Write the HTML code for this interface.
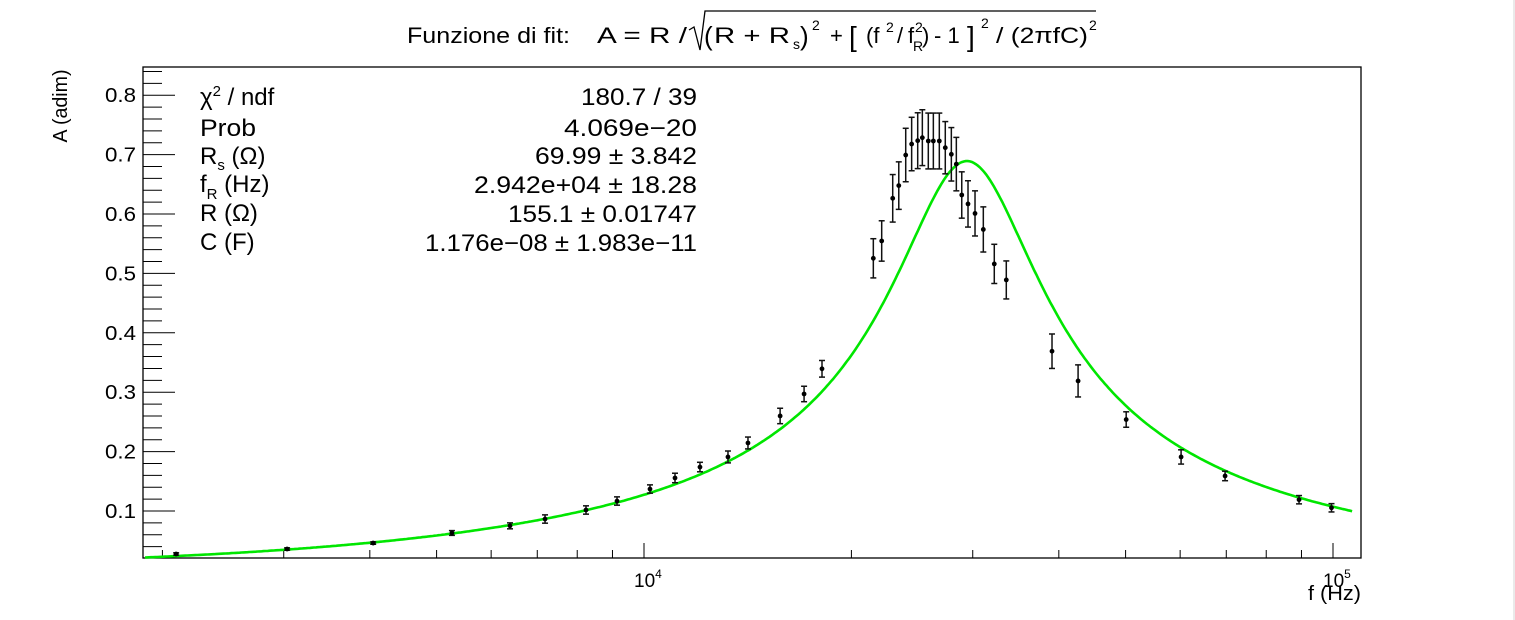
<!DOCTYPE html>
<html><head><meta charset="utf-8"><style>
html,body{margin:0;padding:0;background:#fff;}
svg{display:block;font-family:"Liberation Sans",Arial,sans-serif;}
</style></head><body>
<svg id="chart" width="1515" height="620" viewBox="0 0 1515 620" xmlns="http://www.w3.org/2000/svg">
<rect x="0" y="0" width="1515" height="620" fill="#fff"/>
<line x1="1514" y1="0" x2="1514" y2="620" stroke="#e4e4e4" stroke-width="1.5"/>
<g font-size="22" fill="#000">
  <text x="407" y="43" textLength="163" lengthAdjust="spacingAndGlyphs">Funzione di fit:</text>
  <text x="597" y="43" textLength="90" lengthAdjust="spacingAndGlyphs">A = R /</text>
  <path d="M689,30 L694,27 L700,50 L705,11 L1096,11" fill="none" stroke="#000" stroke-width="1.3"/>
  <text x="704" y="45" font-size="26">(</text>
  <text x="714" y="43" textLength="76" lengthAdjust="spacingAndGlyphs">R + R</text>
  <text x="793" y="49" font-size="14">s</text>
  <text x="800" y="45" font-size="26">)</text>
  <text x="812" y="30" font-size="14">2</text>
  <text x="830" y="43">+</text>
  <text x="849" y="46" font-size="28">[</text>
  <text x="866" y="43">(f</text>
  <text x="886" y="32" font-size="14">2</text>
  <text x="897" y="43">/</text>
  <text x="908" y="43">f</text>
  <text x="915" y="32" font-size="14">2</text>
  <text x="913" y="51" font-size="14">R</text>
  <text x="922" y="43">)</text>
  <text x="934" y="43">- 1</text>
  <text x="967" y="46" font-size="28">]</text>
  <text x="981" y="28" font-size="14">2</text>
  <text x="996" y="43" textLength="92" lengthAdjust="spacingAndGlyphs">/ (2πfC)</text>
  <text x="1089" y="30" font-size="14">2</text>
</g>
<g id="plot"></g>
<g font-size="24" fill="#000">
  <text x="200" y="105">χ<tspan font-size="15" dy="-9">2</tspan><tspan dy="9"> / ndf</tspan></text>
  <text x="697" y="105" text-anchor="end" textLength="116" lengthAdjust="spacingAndGlyphs">180.7 / 39</text>
  <text x="200" y="136" textLength="56" lengthAdjust="spacingAndGlyphs">Prob</text>
  <text x="697" y="136" text-anchor="end" textLength="133" lengthAdjust="spacingAndGlyphs">4.069e−20</text>
  <text x="200" y="164">R<tspan font-size="15" dy="6">s</tspan><tspan dy="-6"> (Ω)</tspan></text>
  <text x="697" y="164" text-anchor="end" textLength="162" lengthAdjust="spacingAndGlyphs">69.99 ± 3.842</text>
  <text x="200" y="192">f<tspan font-size="15" dy="7">R</tspan><tspan dy="-7"> (Hz)</tspan></text>
  <text x="697" y="193" text-anchor="end" textLength="223" lengthAdjust="spacingAndGlyphs">2.942e+04 ± 18.28</text>
  <text x="200" y="221">R (Ω)</text>
  <text x="697" y="222" text-anchor="end" textLength="189" lengthAdjust="spacingAndGlyphs">155.1 ± 0.01747</text>
  <text x="200" y="250">C (F)</text>
  <text x="697" y="251" text-anchor="end" textLength="272" lengthAdjust="spacingAndGlyphs">1.176e−08 ± 1.983e−11</text>
</g>
</svg>
<script>
const freqs = [2094,3034,4045,5263,6390,7184,8238,9138,10202,11092,12057,13240,14155,15760,17074,18128,21520,22130,22960,23430,23980,24460,24960,25350,25860,26300,26830,27370,27930,28400,28920,29530,30230,31080,32240,33560,39100,42660,50100,60190,69720,89270,99500];
const amps = [0.0276,0.036,0.046,0.063,0.075,0.0865,0.1017,0.1168,0.137,0.1556,0.174,0.191,0.2145,0.26,0.297,0.3394,0.5254,0.5546,0.6264,0.6478,0.6993,0.7178,0.7234,0.7285,0.7229,0.7229,0.7229,0.7116,0.7005,0.684,0.632,0.617,0.601,0.574,0.516,0.489,0.369,0.319,0.254,0.191,0.159,0.119,0.1054];
const errs = [0.002,0.002,0.002,0.004,0.005,0.007,0.007,0.007,0.007,0.008,0.008,0.01,0.01,0.013,0.013,0.014,0.033,0.034,0.040,0.040,0.045,0.045,0.047,0.047,0.047,0.047,0.047,0.044,0.045,0.045,0.039,0.039,0.038,0.038,0.033,0.032,0.029,0.027,0.013,0.012,0.008,0.007,0.007];
const fitParams = [155.1, 69.99, 29420, 1.176e-8]; // R, Rs, fR, C
const yTicks = [0.1,0.2,0.3,0.4,0.5,0.6,0.7,0.8];
const xMajor = [10000,100000];
const xMajorLabels = ["4","5"];

const NS="http://www.w3.org/2000/svg";
const L=143,R=1361,T=67,B=558;
const xDec4=644, decPx=689;
const xs=f=>xDec4+decPx*(Math.log10(f)-4);
const ys=a=>570.4-594*a;
const plot=document.getElementById('plot');
function mk(tag,attrs,parent){const e=document.createElementNS(NS,tag);for(const k in attrs)e.setAttribute(k,attrs[k]);(parent||plot).appendChild(e);return e;}

const frame=mk('rect',{x:L,y:T,width:R-L,height:B-T,fill:'none',stroke:'#000','stroke-width':1.3});



const yAxis=mk('g',{});


for(let v=0.02;v<0.85;v+=0.02){
  const y=ys(v); if(y<T||y>B) continue;
  const major=Math.abs(v*10-Math.round(v*10))<1e-6;
  mk('line',{x1:L,x2:L+(major?32:19),y1:y,y2:y,stroke:'#000','stroke-width':1},yAxis);
}
yTicks.forEach(v=>{
  const t=mk('text',{x:136,y:ys(v)+7,'text-anchor':'end','font-size':20,textLength:31,lengthAdjust:'spacingAndGlyphs'},yAxis);
  t.textContent=v.toFixed(1);
  
  
});
const yt=mk('text',{x:0,y:0,transform:'translate(67,106) rotate(-90)','text-anchor':'middle','font-size':20,textLength:73,lengthAdjust:'spacingAndGlyphs'},yAxis);
yt.textContent='A (adim)';



const xAxis=mk('g',{});


for(let d=1000;d<=100000;d*=10){
  for(let m=1;m<=9;m++){
    const f=d*m,x=xs(f); if(x<L||x>R) continue;
    const len=m===1?15:8;
    mk('line',{x1:x,x2:x,y1:B,y2:B-len,stroke:'#000','stroke-width':1},xAxis);
  }
}
xMajor.forEach((f,i)=>{
  const t=mk('text',{x:xs(f)-10,y:587,'font-size':19},xAxis);
  t.innerHTML='10<tspan font-size="12" dy="-9">'+xMajorLabels[i]+'</tspan>';
  
  
});
const xt=mk('text',{x:1361,y:600,'text-anchor':'end','font-size':20,textLength:53,lengthAdjust:'spacingAndGlyphs'},xAxis);
xt.textContent='f (Hz)';



const [pR,pRs,pfR,pC]=fitParams;
const fitFn=f=>pR/Math.sqrt((pR+pRs)**2+Math.pow(f*f/(pfR*pfR)-1,2)/Math.pow(2*Math.PI*f*pC,2));
let d='';
const f0=Math.pow(10,4+(L+2-xDec4)/decPx), f1=106600;
for(let i=0;i<=600;i++){
  const f=f0*Math.pow(f1/f0,i/600);
  const y=Math.max(T,Math.min(B,ys(fitFn(f))));
  d+=(i?'L':'M')+xs(f).toFixed(1)+','+y.toFixed(1);
}
const fit=mk('path',{d:d,fill:'none',stroke:'#00e600','stroke-width':2.6});



freqs.forEach((f,i)=>{
  const g=mk('g',{});
  
  
  const x=xs(f),y=ys(amps[i]),e=errs[i]*594;
  mk('line',{x1:x,x2:x,y1:y-e,y2:y+e,stroke:'#111','stroke-width':1.5},g);
  mk('line',{x1:x-3,x2:x+3,y1:y-e,y2:y-e,stroke:'#111','stroke-width':1.5},g);
  mk('line',{x1:x-3,x2:x+3,y1:y+e,y2:y+e,stroke:'#111','stroke-width':1.5},g);
  mk('circle',{cx:x,cy:y,r:2.4,fill:'#000'},g);
});
</script>
</body></html>
